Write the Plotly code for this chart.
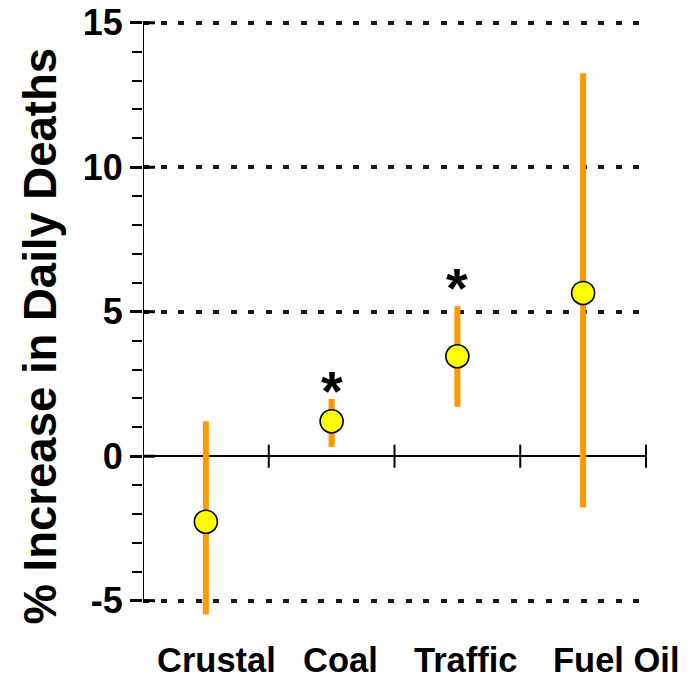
import plotly.graph_objects as go

categories = ["Crustal", "Coal", "Traffic", "Fuel Oil"]
estimate = [-2.27, 1.21, 3.46, 5.65]
upper = [1.21, 1.98, 5.19, 13.25]
lower = [-5.48, 0.32, 1.71, -1.78]
significant = [False, True, True, False]
y_title = "% Increase in Daily Deaths"
y_ticks = [-5, 0, 5, 10, 15]

FONT = "Liberation Sans, Arial, sans-serif"
xpos = list(range(len(categories)))
err_plus = [u - e for u, e in zip(upper, estimate)]
err_minus = [e - l for e, l in zip(estimate, lower)]

fig = go.Figure()
fig.add_trace(go.Scatter(
    x=xpos, y=estimate, mode="markers",
    marker=dict(size=23, color="#FFFF00", line=dict(color="black", width=1.6)),
    error_y=dict(type="data", symmetric=False, array=err_plus, arrayminus=err_minus,
                 color="#FF9900", thickness=6, width=0),
    cliponaxis=False, showlegend=False, hoverinfo="skip"))

# axis line (from -5 to 15 only)
fig.add_shape(type="line", xref="x", yref="y", x0=-0.5, x1=-0.5, y0=y_ticks[0], y1=y_ticks[-1],
              line=dict(color="black", width=2), layer="above")
# inner part of major ticks
for t in y_ticks:
    fig.add_shape(type="line", xref="x", yref="y", x0=-0.5, x1=-0.405, y0=t, y1=t,
                  line=dict(color="black", width=3), layer="above")
# category boundary ticks on zero line
for i in range(len(categories)):
    fig.add_shape(type="line", xref="x", yref="y", x0=i + 0.5, x1=i + 0.5, y0=-0.4, y1=0.4,
                  line=dict(color="black", width=2), layer="above")

label_shift = [11, 9, 9, 33]
for i, c in enumerate(categories):
    fig.add_annotation(x=xpos[i], y=0, xref="x", yref="paper", text=c, showarrow=False,
                       xanchor="center", yanchor="top", xshift=label_shift[i], yshift=-21,
                       font=dict(family=FONT, size=34.5, color="black", weight="bold"))
star_shift = [0, -25, -15, 0]
for i, s in enumerate(significant):
    if s:
        fig.add_annotation(x=xpos[i], y=upper[i], xref="x", yref="y", text="*", showarrow=False,
                           xanchor="center", yanchor="bottom", yshift=star_shift[i],
                           font=dict(family=FONT, size=56, color="black", weight="bold"))

fig.add_annotation(x=0, y=0.5, xref="paper", yref="paper", text=y_title, textangle=-90,
                   showarrow=False, xanchor="center", yanchor="middle", xshift=-103, yshift=-19,
                   font=dict(family=FONT, size=45.5, color="black", weight="bold"))

# the page body adds an 8px offset, so the figure is sized to fit the 697x676 window
fig.update_layout(
    width=689, height=668,
    margin=dict(l=135, r=50, t=9, b=58, autoexpand=False),
    paper_bgcolor="white", plot_bgcolor="white",
    xaxis=dict(range=[-0.5, 3.508], showgrid=False, zeroline=False, showline=False,
               showticklabels=False, ticks="", fixedrange=True, automargin=False),
    yaxis=dict(range=[-5.6, 15.2], tickvals=y_ticks, ticktext=[str(t) for t in y_ticks],
               automargin=False, ticklabeloverflow="allow",
               showgrid=True, gridcolor="#1a1a1a", gridwidth=3.5, griddash="6px,11.5px",
               zeroline=True, zerolinecolor="black", zerolinewidth=2,
               showline=False, ticks="outside", ticklen=12, tickwidth=3, tickcolor="black",
               minor=dict(dtick=1, ticks="outside", ticklen=10, tickwidth=2, tickcolor="black",
                          showgrid=False),
               tickfont=dict(family=FONT, size=36, color="black", weight="bold")),
)
fig.write_html("out.html")
